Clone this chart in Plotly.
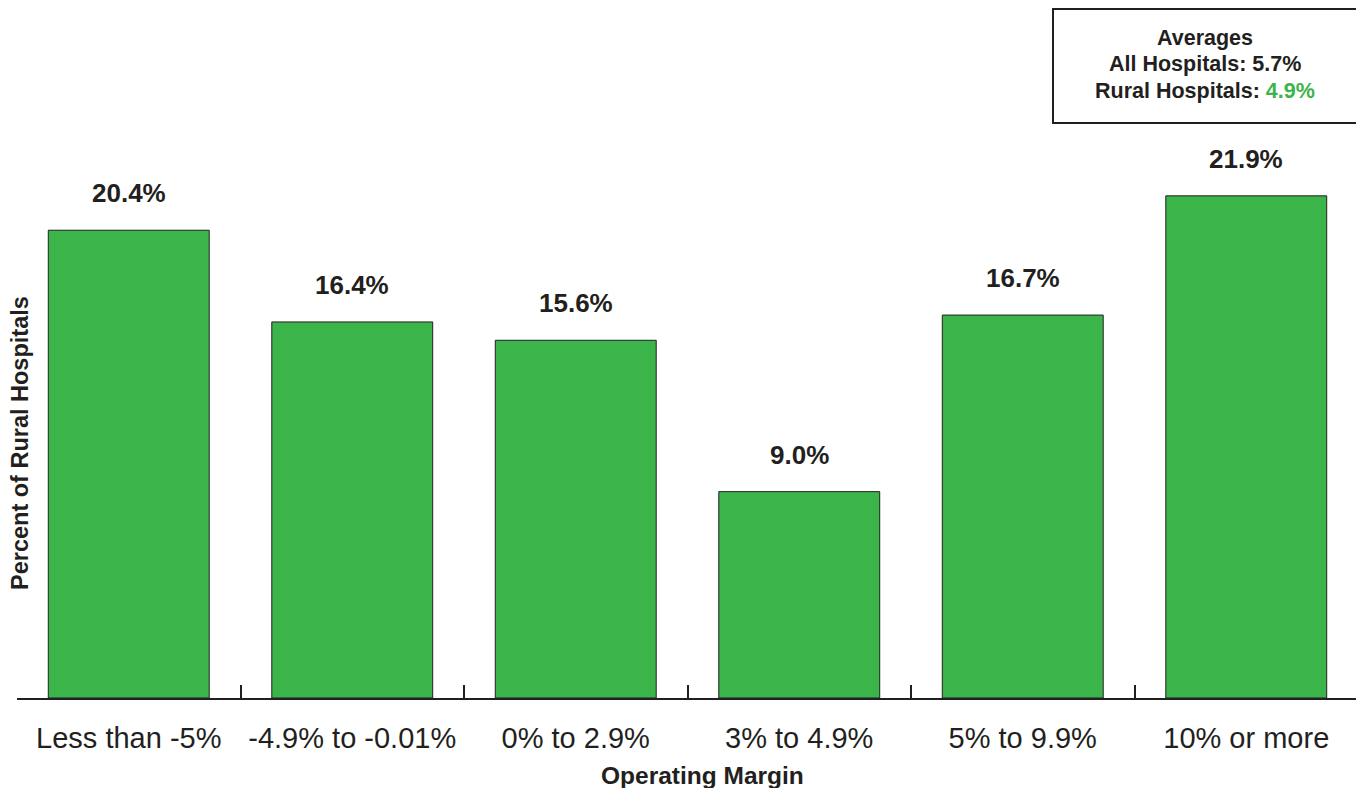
import plotly.graph_objects as go

categories = ["Less than -5%", "-4.9% to -0.01%", "0% to 2.9%", "3% to 4.9%", "5% to 9.9%", "10% or more"]
values = [20.4, 16.4, 15.6, 9.0, 16.7, 21.9]
labels = ["20.4%", "16.4%", "15.6%", "9.0%", "16.7%", "21.9%"]
boundary_ticks = [0.5, 1.5, 2.5, 3.5, 4.5, 5.5]
avg_all = "5.7%"
avg_rural = "4.9%"

GREEN = "#3bb54a"
DARK = "#231f20"
OFF = 8  # browser default body margin
W, H = 1364 - OFF, 796 - 2 * OFF
AXIS_Y = 698  # page pixel row of the x axis
ML = 17 - OFF
MR = (OFF + W) - 1358
MT = 20 - OFF
MB = (OFF + H) - AXIS_Y
plot_h = H - MT - MB
plot_w = W - ML - MR
px_per_unit = 22.93
ymax = plot_h / px_per_unit

BOLD = "Liberation Sans, Arial, Helvetica, sans-serif"

fig = go.Figure()
fig.add_trace(go.Bar(
    x=categories, y=values, width=0.72,
    marker=dict(color=GREEN, line=dict(color=DARK, width=1)),
    hoverinfo="skip", showlegend=False,
))

for c, v, t in zip(categories, values, labels):
    fig.add_annotation(x=c, y=v, text=t, showarrow=False, yanchor="middle",
                       yshift=37,
                       font=dict(family=BOLD, size=26, color=DARK, weight="bold"))

def px_x(p):
    return (p - OFF - ML) / plot_w

def px_y(p):
    return (AXIS_Y - p) / plot_h

# averages box
fig.add_shape(type="rect", xref="paper", yref="paper",
              x0=px_x(1053), x1=px_x(1357), y0=px_y(123), y1=px_y(9),
              line=dict(color=DARK, width=2), fillcolor="white")
box_lines = [
    ("Averages", 38),
    (f"All Hospitals: {avg_all}", 64),
    (f"Rural Hospitals: <span style='color:{GREEN}'>{avg_rural}</span>", 91),
]
for txt, yy in box_lines:
    fig.add_annotation(xref="paper", yref="paper", x=px_x(1205), y=px_y(yy),
                       xanchor="center", yanchor="middle", showarrow=False, text=txt,
                       font=dict(family=BOLD, size=21.5, color=DARK, weight="bold"))

# axis titles
fig.add_annotation(xref="paper", yref="paper", x=px_x(20), y=px_y(443),
                   text="Percent of Rural Hospitals", textangle=-90, showarrow=False,
                   xanchor="center", yanchor="middle",
                   font=dict(family=BOLD, size=23.5, color=DARK, weight="bold"))
fig.add_annotation(xref="paper", yref="paper", x=px_x(702), y=px_y(775),
                   text="Operating Margin", showarrow=False,
                   xanchor="center", yanchor="middle",
                   font=dict(family=BOLD, size=24.5, color=DARK, weight="bold"))

# invisible trace on secondary x axis to draw boundary ticks
fig.add_trace(go.Scatter(x=[-0.5, 5.5], y=[0, 0], xaxis="x2", mode="lines",
                         line=dict(width=0), hoverinfo="skip", showlegend=False))

fig.update_layout(
    width=W, height=H,
    margin=dict(l=ML, r=MR, t=MT, b=MB),
    paper_bgcolor="white", plot_bgcolor="white",
    xaxis=dict(type="category", range=[-0.5, 5.5], showline=True, linecolor=DARK, linewidth=2,
               ticks="", showgrid=False, ticklabelstandoff=13,
               tickfont=dict(family="Liberation Sans, Arial, sans-serif", size=29, color=DARK)),
    xaxis2=dict(overlaying="x", anchor="y", side="bottom", range=[-0.5, 5.5],
                tickvals=boundary_ticks, ticks="inside", ticklen=13, tickwidth=2,
                tickcolor=DARK, showticklabels=False, showgrid=False, zeroline=False,
                showline=False),
    yaxis=dict(range=[0, ymax], visible=False, showgrid=False, zeroline=False),
)

fig.write_html("out.html")
